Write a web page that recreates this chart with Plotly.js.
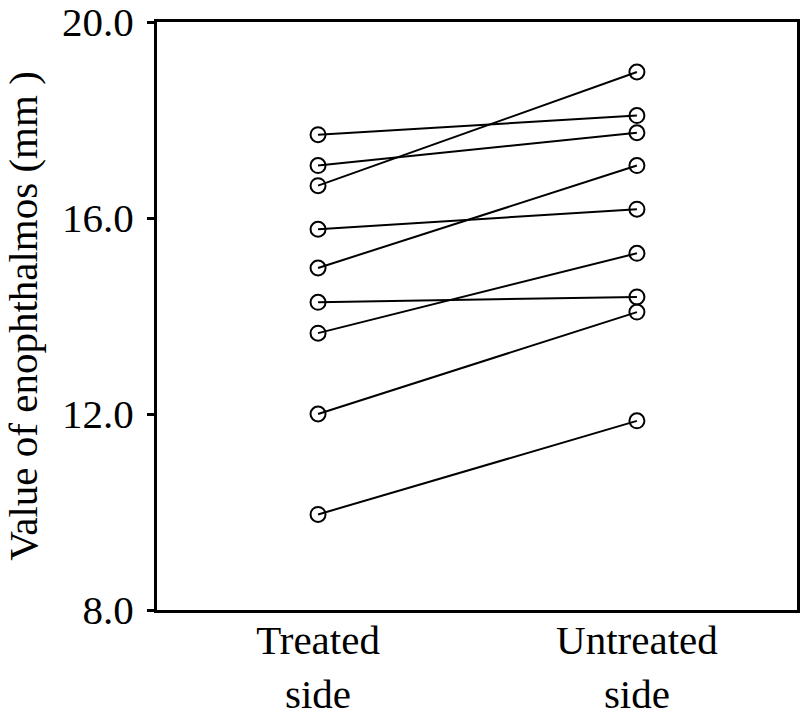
<!DOCTYPE html>
<html>
<head>
<meta charset="utf-8">
<script src="https://cdn.plot.ly/plotly-3.0.1.min.js"></script>
<style>
	body { margin: 0; background: #fff; }
	#chart { width: 800px; height: 726px; }
</style>
</head>
<body>
<div id="chart"></div>
<script>
// one value per patient, treated side vs untreated side
var sides = ['Treated<br>side', 'Untreated<br>side'];
var treated = [17.70, 17.07, 16.66, 15.77, 14.98, 14.28, 13.65, 12.00, 9.95];
var untreated = [18.09, 17.74, 18.98, 16.18, 17.07, 14.39, 15.28, 14.08, 11.86];
var yTicks = [8, 12, 16, 20];
var yTickText = ['8.0', '12.0', '16.0', '20.0'];

function main(){
	var data = [];
	for (var i = 0; i < treated.length; i++) {
		data.push(makePair(treated[i], untreated[i]));
	}

	var font = 'Liberation Serif, DejaVu Serif, serif';

	var layout = {
		width: 800,
		height: 726,
		margin: {l: 157, r: 3, t: 22, b: 116},
		paper_bgcolor: '#fff',
		plot_bgcolor: '#fff',
		font: {family: font, size: 41, color: '#000'},
		showlegend: false,
		xaxis: {
			type: 'category',
			range: [-0.505, 1.502],
			showgrid: false,
			zeroline: false,
			showline: true,
			linecolor: '#000',
			linewidth: 3,
			mirror: true,
			ticks: '',
			ticklabelstandoff: -8,
			tickfont: {family: font, size: 41, color: '#000'}
		},
		yaxis: {
			range: [8, 20],
			tickvals: yTicks,
			ticktext: yTickText,
			showgrid: false,
			zeroline: false,
			showline: true,
			linecolor: '#000',
			linewidth: 3,
			mirror: true,
			ticks: 'outside',
			ticklen: 7,
			tickwidth: 3,
			tickcolor: '#000',
			ticklabelstandoff: 5,
			ticklabeloverflow: 'allow',
			tickfont: {family: font, size: 41, color: '#000'},
			title: {
				text: 'Value of enophthalmos (mm )',
				font: {family: font, size: 41, color: '#000'},
				standoff: 18
			}
		}
	};

	Plotly.newPlot('chart', data, layout, {displayModeBar: false, staticPlot: true});
}

function makePair(a, b){
	return {
		x: sides,
		y: [a, b],
		type: 'scatter',
		mode: 'lines+markers',
		line: {color: '#000', width: 2},
		marker: {
			symbol: 'circle-open',
			size: 15,
			color: '#000',
			line: {color: '#000', width: 2}
		},
		hoverinfo: 'y'
	};
}

main();
</script>
</body>
</html>
